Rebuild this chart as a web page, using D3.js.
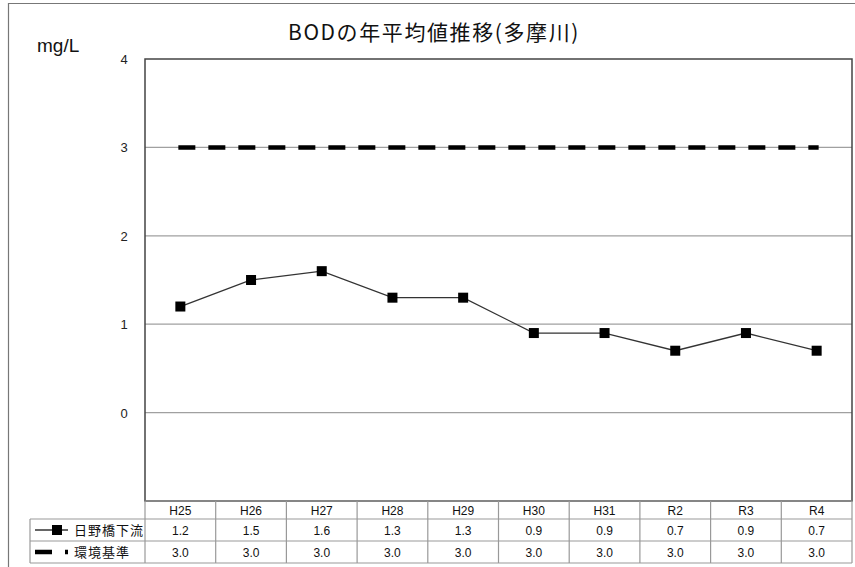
<!DOCTYPE html>
<html><head><meta charset="utf-8">
<script src="https://cdn.jsdelivr.net/npm/d3@7"></script>
<style>body{margin:0;background:#fff}svg{display:block}</style>
</head><body><svg id="c" width="855" height="567"></svg>
<script>
const categories = ["H25","H26","H27","H28","H29","H30","H31","R2","R3","R4"];
const seriesNames = ["日野橋下流","環境基準"];
const hinoValues = [1.2,1.5,1.6,1.3,1.3,0.9,0.9,0.7,0.9,0.7];
const standardValues = [3.0,3.0,3.0,3.0,3.0,3.0,3.0,3.0,3.0,3.0];
const yTicks = [0,1,2,3,4];
const titleText = "BODの年平均値推移(多摩川)";
const unitText = "mg/L";

const svg = d3.select("#c");
const L = 145, R = 852, T = 59, B = 501;
const x = d3.scaleBand().domain(categories).range([L, R]);
const y = d3.scaleLinear().domain([-1, 4]).range([B, T]);
const cx = d => x(d) + x.bandwidth()/2;
const jp = "'Noto Sans CJK JP','Noto Sans',sans-serif";
const num = "'Liberation Sans',Arial,sans-serif";

// outer frame
svg.append("path").attr("d", "M8.5,567 V3.5 H855").attr("fill","none").attr("stroke","#777").attr("stroke-width",1.2);

// title
svg.append("text").attr("x", 434).attr("y", 40).attr("text-anchor","middle")
  .attr("font-family", jp).attr("font-size", 21).attr("letter-spacing", 1.6).attr("fill","#111").text(titleText);
svg.append("text").attr("x", 37).attr("y", 52)
  .attr("font-family", num).attr("font-size", 19).attr("fill","#111").text(unitText);

// gridlines
svg.append("g").selectAll("line").data(yTicks.filter(v => v < 4)).join("line")
  .attr("x1", L).attr("x2", R).attr("y1", d => y(d)).attr("y2", d => y(d))
  .attr("stroke","#a0a0a0").attr("stroke-width",1.2);

// y tick labels
svg.append("g").selectAll("text").data(yTicks).join("text")
  .attr("x", 124).attr("y", d => y(d) + 5).attr("text-anchor","middle")
  .attr("font-family", "'Liberation Sans Narrow','Liberation Sans',Arial,sans-serif")
  .attr("font-size", 13).attr("fill","#222").text(d => d);

// plot border
svg.append("rect").attr("x", L).attr("y", T).attr("width", R-L).attr("height", B-T)
  .attr("fill","none").attr("stroke","#444").attr("stroke-width",1.5);

// standard dashed line
const line = d3.line().x((d,i) => cx(categories[i])).y(d => y(d));
svg.append("path").datum(standardValues)
  .attr("d", d3.line().x((d,i) => cx(categories[i]) + (i===0 ? -2 : (i===standardValues.length-1 ? 2 : 0))).y(d => y(d)))
  .attr("fill","none").attr("stroke","#000").attr("stroke-width",4.5)
  .attr("stroke-dasharray","17,13");

// series line
svg.append("path").datum(hinoValues).attr("d", line)
  .attr("fill","none").attr("stroke","#333").attr("stroke-width",1.3);
svg.append("g").selectAll("rect").data(hinoValues).join("rect")
  .attr("x", (d,i) => cx(categories[i]) - 5).attr("y", d => y(d) - 5)
  .attr("width", 10).attr("height", 10).attr("fill","#000");

// data table
const tableLeft = 30, rowH = [B, 519, 541, 563];
const tg = svg.append("g").attr("stroke","#999").attr("stroke-width",1.2);
tg.append("line").attr("x1", L).attr("x2", R).attr("y1", rowH[0]).attr("y2", rowH[0]);
[1,2,3].forEach(k => tg.append("line").attr("x1", tableLeft).attr("x2", R).attr("y1", rowH[k]).attr("y2", rowH[k]));
tg.append("line").attr("x1", tableLeft).attr("x2", tableLeft).attr("y1", rowH[1]).attr("y2", rowH[3]);
categories.forEach(c => tg.append("line").attr("x1", x(c)).attr("x2", x(c)).attr("y1", rowH[0]).attr("y2", rowH[3]));
tg.append("line").attr("x1", R).attr("x2", R).attr("y1", rowH[0]).attr("y2", rowH[3]);

const cellText = (vals, row, fmt) => svg.append("g").selectAll("text").data(vals).join("text")
  .attr("x", (d,i) => cx(categories[i])).attr("y", (rowH[row]+rowH[row+1])/2 + 4.5)
  .attr("text-anchor","middle").attr("font-family", num).attr("font-size", 12).attr("fill","#111")
  .text(fmt);
cellText(categories, 0, d => d);
cellText(hinoValues, 1, d => d.toFixed(1));
cellText(standardValues, 2, d => d.toFixed(1));

// legend keys
const r1 = (rowH[1]+rowH[2])/2, r2 = (rowH[2]+rowH[3])/2;
svg.append("line").attr("x1", 35).attr("x2", 68).attr("y1", r1).attr("y2", r1).attr("stroke","#333").attr("stroke-width",1.3);
svg.append("rect").attr("x", 52).attr("y", r1-5).attr("width",10).attr("height",10).attr("fill","#000");
svg.append("line").attr("x1", 35).attr("x2", 68).attr("y1", r2).attr("y2", r2).attr("stroke","#000").attr("stroke-width",4.5).attr("stroke-dasharray","17,13");
svg.append("text").attr("x", 74).attr("y", r1+5).attr("font-family", jp).attr("font-size", 13).attr("fill","#111").attr("letter-spacing", 1).text(seriesNames[0]);
svg.append("text").attr("x", 74).attr("y", r2+5).attr("font-family", jp).attr("font-size", 13).attr("fill","#111").attr("letter-spacing", 1).text(seriesNames[1]);
</script></body></html>
